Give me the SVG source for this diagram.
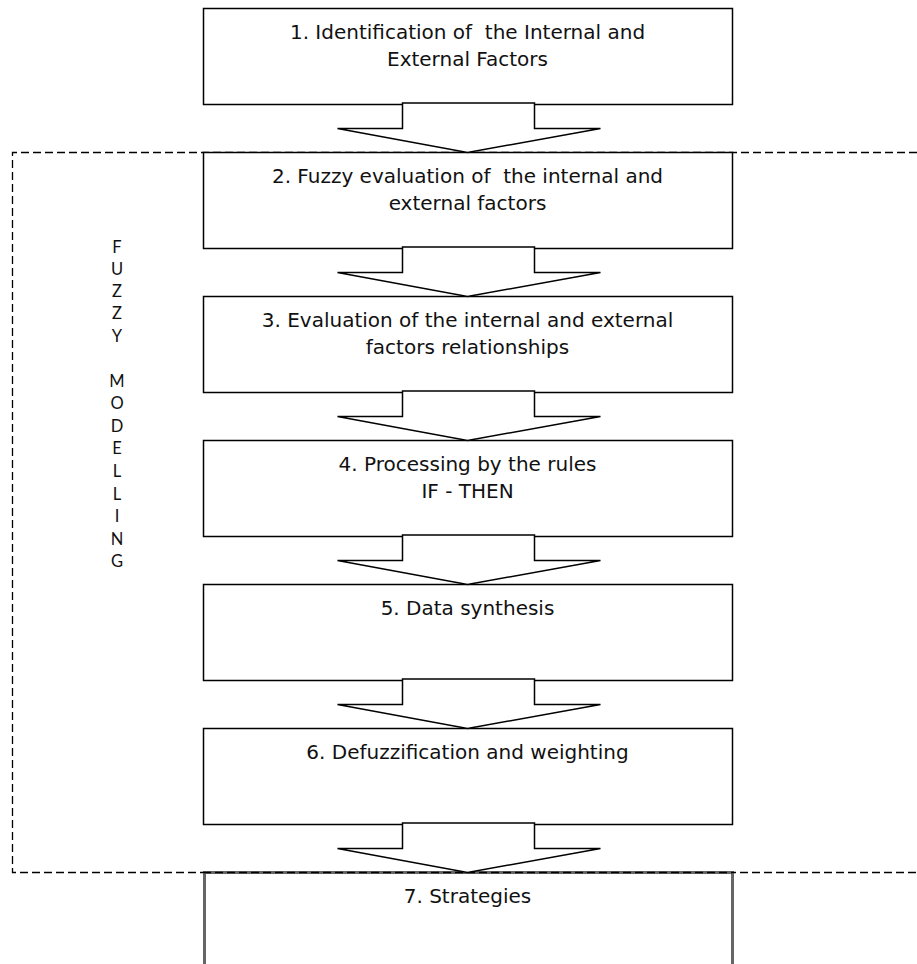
<svg xmlns="http://www.w3.org/2000/svg" width="917" height="964" viewBox="0 0 917 964">
<style>
.box{fill:#fff;stroke:#000;stroke-width:1.5}
.arrow{fill:#fff;stroke:#000;stroke-width:1.5;stroke-linejoin:miter}
.t{font-family:"DejaVu Sans","Liberation Sans",sans-serif;font-size:20px;fill:#111;text-anchor:middle;white-space:pre}
.side{font-family:Lato,"DejaVu Sans",sans-serif;font-size:16.5px;fill:#111;text-anchor:middle}
.dash{fill:none;stroke:#000;stroke-width:1.3;stroke-dasharray:8 4}
</style>
<rect width="917" height="964" fill="#fff"/>
<path class="dash" d="M917 152.5 H12.5 V872.5 H917"/>
<g id="n1"><rect class="box" x="203.5" y="8.5" width="529" height="96"/><text class="t" x="467.5" y="39">1. Identification of  the Internal and</text><text class="t" x="467.5" y="66">External Factors</text></g>
<g id="n2"><rect class="box" x="203.5" y="152.5" width="529" height="96"/><text class="t" x="467.5" y="183">2. Fuzzy evaluation of  the internal and</text><text class="t" x="467.5" y="210">external factors</text></g>
<g id="n3"><rect class="box" x="203.5" y="296.5" width="529" height="96"/><text class="t" x="467.5" y="327">3. Evaluation of the internal and external</text><text class="t" x="467.5" y="354">factors relationships</text></g>
<g id="n4"><rect class="box" x="203.5" y="440.5" width="529" height="96"/><text class="t" x="467.5" y="471">4. Processing by the rules</text><text class="t" x="467.5" y="498">IF - THEN</text></g>
<g id="n5"><rect class="box" x="203.5" y="584.5" width="529" height="96"/><text class="t" x="467.5" y="615">5. Data synthesis</text></g>
<g id="n6"><rect class="box" x="203.5" y="728.5" width="529" height="96"/><text class="t" x="467.5" y="759">6. Defuzzification and weighting</text></g>
<g id="n7"><rect x="204.5" y="872.5" width="528" height="120" fill="#fff" stroke="#666" stroke-width="3"/><text class="t" x="467.5" y="903">7. Strategies</text></g>
<path d="M203 872.5 H734" fill="none" stroke="#000" stroke-width="1.3" stroke-dasharray="8 4"/>
<g id="connectors">
<polygon class="arrow" points="402.5,103 402.5,128.5 337.5,128.5 467.5,152.5 600.5,128.5 534.5,128.5 534.5,103"/>
<polygon class="arrow" points="402.5,247 402.5,272.5 337.5,272.5 467.5,296.5 600.5,272.5 534.5,272.5 534.5,247"/>
<polygon class="arrow" points="402.5,391 402.5,416.5 337.5,416.5 467.5,440.5 600.5,416.5 534.5,416.5 534.5,391"/>
<polygon class="arrow" points="402.5,535 402.5,560.5 337.5,560.5 467.5,584.5 600.5,560.5 534.5,560.5 534.5,535"/>
<polygon class="arrow" points="402.5,679 402.5,704.5 337.5,704.5 467.5,728.5 600.5,704.5 534.5,704.5 534.5,679"/>
<polygon class="arrow" points="402.5,823 402.5,848.5 337.5,848.5 467.5,872.5 600.5,848.5 534.5,848.5 534.5,823"/>
</g>
<g id="side-label">
<text class="side" x="117" y="253">F</text>
<text class="side" x="117" y="275">U</text>
<text class="side" x="117" y="297">Z</text>
<text class="side" x="117" y="319">Z</text>
<text class="side" x="117" y="342">Y</text>
<text class="side" x="117" y="387">M</text>
<text class="side" x="117" y="409">O</text>
<text class="side" x="117" y="432">D</text>
<text class="side" x="117" y="454">E</text>
<text class="side" x="117" y="477">L</text>
<text class="side" x="117" y="500">L</text>
<text class="side" x="117" y="522">I</text>
<text class="side" x="117" y="545">N</text>
<text class="side" x="117" y="567">G</text>
</g>
</svg>
